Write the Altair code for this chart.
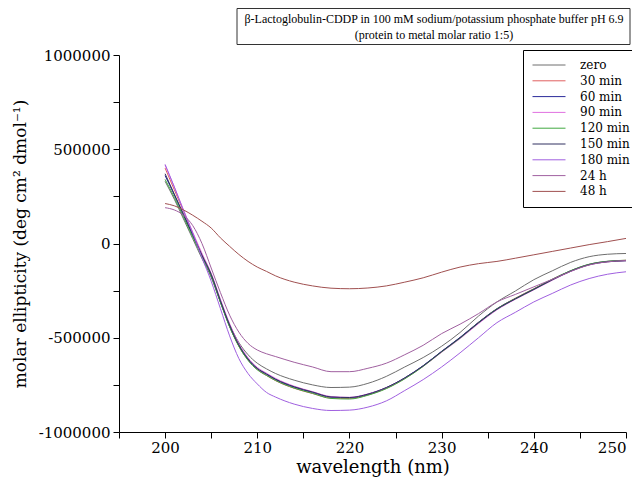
import altair as alt
import pandas as pd

wavelengths = [200, 201, 202, 203, 204, 205, 206, 207, 208, 209, 210, 211, 212,
               214, 216, 218, 220, 222, 224, 226, 228, 230, 232, 234, 236, 238,
               240, 242, 244, 246, 248, 250]

series_names = ["zero", "30 min", "60 min", "90 min", "120 min",
                "150 min", "180 min", "24 h", "48 h"]

colors = ["#6e6e6e", "#e06060", "#2a2a9a", "#e070e0", "#40a840",
          "#303060", "#a060e0", "#a060a0", "#a05050"]

zero = [330000, 235000, 130000, 25000, -80000, -180000, -310000, -430000, -525000,
        -590000, -635000, -665000, -690000, -725000, -750000, -764000, -762000,
        -742000, -705000, -655000, -605000, -545000, -472000, -385000, -310000,
        -252000, -192000, -145000, -100000, -70000, -57000, -53000]
min30 = [400000, 285000, 170000, 55000, -58000, -165000, -308000, -440000, -545000,
         -618000, -668000, -700000, -728000, -768000, -796000, -820000, -822000,
         -803000, -768000, -716000, -650000, -575000, -500000, -418000, -346000,
         -290000, -240000, -190000, -145000, -111000, -95000, -89000]
min60 = [360000, 258000, 150000, 42000, -66000, -170000, -310000, -440000, -542000,
         -615000, -664000, -694000, -722000, -762000, -790000, -815000, -818000,
         -800000, -765000, -713000, -648000, -572000, -498000, -418000, -346000,
         -292000, -242000, -191000, -145000, -111000, -95000, -90000]
min90 = [415000, 300000, 178000, 60000, -52000, -158000, -295000, -425000, -530000,
         -606000, -657000, -688000, -716000, -757000, -786000, -812000, -816000,
         -798000, -765000, -715000, -652000, -577000, -505000, -425000, -352000,
         -296000, -246000, -195000, -148000, -113000, -97000, -91000]
min120 = [340000, 245000, 140000, 35000, -70000, -172000, -312000, -442000, -545000,
          -620000, -670000, -700000, -727000, -767000, -795000, -822000, -825000,
          -805000, -770000, -718000, -652000, -575000, -502000, -420000, -347000,
          -292000, -242000, -190000, -144000, -110000, -94000, -89000]
min150 = [370000, 262000, 155000, 47000, -62000, -163000, -302000, -432000, -537000,
          -612000, -662000, -692000, -720000, -760000, -788000, -814000, -817000,
          -799000, -764000, -713000, -649000, -573000, -500000, -421000, -349000,
          -294000, -244000, -193000, -147000, -113000, -97000, -92000]
min180 = [420000, 300000, 175000, 55000, -75000, -200000, -345000, -490000, -610000,
          -690000, -745000, -790000, -815000, -852000, -875000, -886000, -884000,
          -868000, -835000, -780000, -722000, -655000, -580000, -500000, -420000,
          -365000, -310000, -265000, -220000, -186000, -163000, -150000]
h24 = [190000, 178000, 150000, 95000, 0, -130000, -260000, -380000, -470000,
       -530000, -565000, -585000, -600000, -630000, -655000, -680000, -680000,
       -662000, -635000, -590000, -540000, -478000, -428000, -372000, -310000,
       -270000, -230000, -190000, -148000, -114000, -97000, -90000]
h48 = [212000, 200000, 178000, 150000, 118000, 82000, 30000, -15000, -58000,
       -95000, -125000, -148000, -172000, -205000, -225000, -237000, -240000,
       -236000, -225000, -205000, -182000, -152000, -125000, -107000, -95000,
       -78000, -60000, -42000, -24000, -6000, 10000, 27000]

title_line1 = "β-Lactoglobulin-CDDP in 100 mM sodium/potassium phosphate buffer pH 6.9"
title_line2 = "(protein to metal molar ratio 1:5)"

all_series = [zero, min30, min60, min90, min120, min150, min180, h24, h48]
rows = []
for name, vals in zip(series_names, all_series):
    for w, v in zip(wavelengths, vals):
        rows.append({"wavelength": w, "ellipticity": v, "series": name})
df = pd.DataFrame(rows)

FONT = "DejaVu Serif"
TFONT = "Liberation Serif"

x_ticks = [195, 200, 205, 210, 215, 220, 225, 230, 235, 240, 245, 250]
y_ticks = [-1000000, -750000, -500000, -250000, 0, 250000, 500000, 750000, 1000000]

lines = alt.Chart(df).mark_line(interpolate="monotone", strokeWidth=1).encode(
    x=alt.X("wavelength:Q",
            scale=alt.Scale(domain=[195, 250], nice=False, zero=False),
            axis=alt.Axis(title="wavelength (nm)", values=x_ticks,
                          labelExpr="datum.value % 10 == 0 ? datum.label : ''",
                          titleFontSize=18, titleFont=FONT, titleFontWeight="normal",
                          labelFontSize=15, labelFont=FONT, tickSize=6,
                          titlePadding=3, labelPadding=2)),
    y=alt.Y("ellipticity:Q",
            scale=alt.Scale(domain=[-1000000, 1000000], nice=False),
            axis=alt.Axis(title="molar ellipticity (deg cm² dmol⁻¹)", values=y_ticks,
                          labelExpr="datum.value % 500000 == 0 ? '' + datum.value : ''",
                          titleFontSize=17, titleFont=FONT, titleFontWeight="normal",
                          labelFontSize=15, labelFont=FONT, tickSize=6,
                          titlePadding=9, labelPadding=3)),
    color=alt.Color("series:N",
                    scale=alt.Scale(domain=series_names, range=colors),
                    sort=series_names,
                    legend=alt.Legend(title=None, orient="none", legendX=404, legendY=-5,
                                      symbolType="M-3,0H3", symbolSize=121,
                                      symbolStrokeWidth=1, symbolOffset=11,
                                      labelFont=FONT, labelFontSize=12,
                                      labelColor="black",
                                      rowPadding=3.8, labelOffset=25, padding=9,
                                      strokeColor="black", fillColor="white")),
)

title_df = pd.DataFrame({"t1": [title_line1], "t2": [title_line2]})
title_box = alt.Chart(title_df).mark_rect(fill="white", stroke="#333333", strokeWidth=1).encode(
    x=alt.value(118), x2=alt.value(511), y=alt.value(-46.5), y2=alt.value(-10.5)
)
title_text1 = alt.Chart(title_df).mark_text(font=TFONT, fontSize=12, align="center",
                                            baseline="middle", color="black").encode(
    x=alt.value(315), y=alt.value(-36), text="t1:N"
)
title_text2 = alt.Chart(title_df).mark_text(font=TFONT, fontSize=12, align="center",
                                            baseline="middle", color="black").encode(
    x=alt.value(315), y=alt.value(-20), text="t2:N"
)

chart = alt.layer(lines, title_box, title_text1, title_text2).properties(
    width=507, height=377,
    autosize=alt.AutoSizeParams(type="none"),
    padding={"left": 111, "top": 47, "right": 6, "bottom": 46},
    background="white",
).configure_view(stroke=None).configure_axis(
    domainColor="black", tickColor="black", labelColor="black", titleColor="black",
    grid=False, domainWidth=1, tickWidth=1
)

chart.save("out.html", embed_options={"renderer": "svg", "actions": False})
